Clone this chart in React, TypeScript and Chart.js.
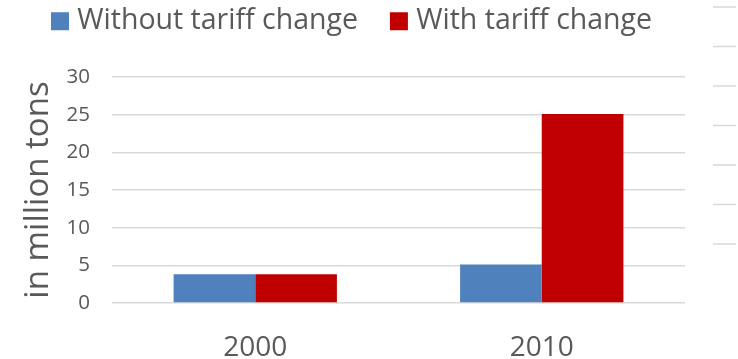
import React, { useEffect, useRef } from "react";
import { Chart, registerables } from "chart.js";

Chart.register(...registerables);

const categories = ["2000", "2010"];
const withoutTariffChange = [3.8, 5.1];
const withTariffChange = [3.8, 25.1];
const seriesNames = ["Without tariff change", "With tariff change"];
const yAxisTitle = "in million tons";
const yMin = 0;
const yMax = 30;
const yStep = 5;

const BLUE = "#4F81BD";
const RED = "#C00000";
const TEXT = "#595959";
const GRID = "#D9D9D9";
const FONT = "'Open Sans', sans-serif";

// decorative cut-off gridlines of a neighbouring chart at the right edge
const edgeLines = { count: 7, startY: 7, step: 39.5, x0: 713, x1: 736 };

const edgePlugin = {
  id: "edgeLines",
  afterDraw(chart: any) {
    const ctx = chart.ctx;
    ctx.save();
    ctx.strokeStyle = GRID;
    ctx.lineWidth = 1.5;
    for (let i = 0; i < edgeLines.count; i++) {
      const y = edgeLines.startY + i * edgeLines.step;
      ctx.beginPath();
      ctx.moveTo(edgeLines.x0, y);
      ctx.lineTo(edgeLines.x1, y);
      ctx.stroke();
    }
    ctx.restore();
  },
};

const legendSpacer = {
  id: "legendSpacer",
  beforeInit(chart: any) {
    const legend = chart.legend;
    if (!legend) return;
    const origFit = legend.fit;
    legend.fit = function () {
      origFit.call(this);
      this.height += 31.5;
    };
  },
};

export default function App() {
  const ref = useRef<HTMLCanvasElement | null>(null);

  useEffect(() => {
    if (!ref.current) return;
    const chart = new Chart(ref.current, {
      type: "bar",
      data: {
        labels: categories,
        datasets: [
          {
            label: seriesNames[0],
            data: withoutTariffChange,
            backgroundColor: BLUE,
            borderWidth: 0,
          },
          {
            label: seriesNames[1],
            data: withTariffChange,
            backgroundColor: RED,
            borderWidth: 0,
          },
        ],
      },
      options: {
        animation: false,
        responsive: true,
        maintainAspectRatio: false,
        layout: { padding: { top: -31, left: 19, right: 0, bottom: 0 } },
        datasets: {
          bar: { barPercentage: 1, categoryPercentage: 0.57 },
        },
        plugins: {
          tooltip: { enabled: false },
          legend: {
            position: "top",
            align: "start",
            labels: {
              color: TEXT,
              font: { family: FONT, size: 28.5 },
              usePointStyle: true,
              pointStyle: "rect",
              boxWidth: 6,
              boxHeight: 18,
              padding: 38,
            },
          },
        },
        scales: {
          x: {
            grid: { display: false, drawTicks: false },
            border: { display: false },
            ticks: {
              color: TEXT,
              font: { family: FONT, size: 28, lineHeight: 1 },
              padding: 31,
            },
            afterFit: (s: any) => {
              s.height = 56;
            },
          },
          y: {
            min: yMin,
            max: yMax,
            grid: { color: GRID, lineWidth: 1.5, drawTicks: false },
            border: { display: false },
            ticks: {
              stepSize: yStep,
              autoSkip: false,
              color: TEXT,
              font: { family: FONT, size: 20.5 },
              padding: 22,
            },
            title: {
              display: true,
              text: yAxisTitle,
              color: TEXT,
              font: { family: FONT, size: 33, lineHeight: 1 },
              padding: { top: 3, bottom: 0 },
            },
            afterFit: (s: any) => {
              s.width = 93;
            },
          },
          yRight: {
            type: "linear",
            position: "right",
            display: true,
            grid: { display: false, drawTicks: false },
            border: { display: false },
            ticks: { display: false },
            afterFit: (s: any) => {
              s.width = 53;
            },
          },
        },
      },
      plugins: [legendSpacer, edgePlugin],
    });
    return () => chart.destroy();
  }, []);

  return (
    <div style={{ position: "absolute", left: 0, top: 0, width: 738, height: 359 }}>
      <canvas ref={ref} />
    </div>
  );
}
